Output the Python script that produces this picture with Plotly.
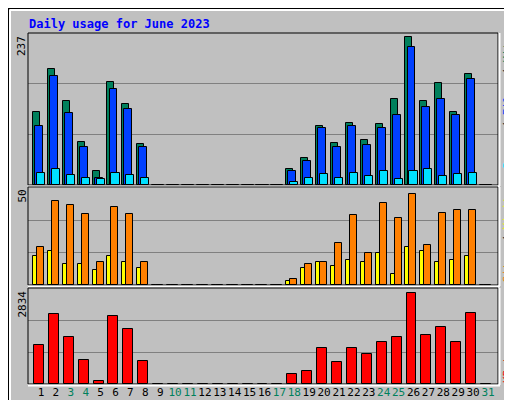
import plotly.graph_objects as go

days = list(range(1, 32))
hits  = [117,186,134,69,22,165,129,65] + [0]*9 + [25,44,95,67,100,72,98,137,237,134,164,117,178,0]
files = [95,175,115,61,12,154,121,61] + [0]*9 + [23,39,92,61,94,64,92,112,221,125,137,112,170,0]
pages = [20,25,16,12,9,19,16,11] + [0]*9 + [5,12,17,12,20,14,23,9,23,25,14,17,20,0]
visits = [20,44,42,37.5,12,41,37.5,12] + [0]*9 + [3,11,12,22,37,17,43,35,48,21,38,39.5,39.5,0]
sites  = [15,18,11,11,8,15,12,9] + [0]*9 + [2,9,12,10,13,12,17,6,20,18,12,13,15,0]
kbytes = [1200,2182,1469,755,103,2120,1717,724] + [0]*9 + [321,414,1127,693,1127,941,1313,1469,2834,1531,1779,1313,2213,0]
weekend = [3,4,10,11,17,18,24,25,31]

W, H = 512, 400
def py(p): return 1 - p / H
def px(p): return p / W

fig = go.Figure()
LINE = dict(color="black", width=1)
def bar(y, color, off, width, ax):
    fig.add_trace(go.Bar(x=days, y=y, offset=off, width=width, marker=dict(color=color, line=LINE),
                         xaxis="x" if ax == 1 else f"x{ax}", yaxis="y" if ax == 1 else f"y{ax}",
                         showlegend=False, hoverinfo="skip"))

bar(hits, "#00805C", -0.54, 0.47, 1)
bar(files, "#0040FF", -0.40, 0.53, 1)
bar(pages, "#00E0FF", -0.27, 0.54, 1)
bar(sites, "#FFFF00", -0.54, 0.29, 2)
bar(visits, "#FF8000", -0.27, 0.47, 2)
bar(kbytes, "#FF0000", -0.47, 0.67, 3)

xr = [0.128, 31.67]
xdom = [px(20), px(490)]
doms = [(py(177), py(25)), (py(277), py(180)), (py(376), py(281))]
R = [237 * 152 / 148, 50 * 99 / 97, 2834 * 95 / 91.3]
lay = {}
for i in range(3):
    sfx = "" if i == 0 else str(i + 1)
    lay["xaxis" + sfx] = dict(domain=xdom, range=xr, showgrid=False, zeroline=False, fixedrange=True,
                              anchor="y" + sfx, showticklabels=(i == 2), automargin=False, tickangle=0,
                              tickvals=days if i == 2 else None,
                              ticktext=[f'<span style="color:{"#00805C" if d in weekend else "black"}">{d}</span>' for d in days] if i == 2 else None,
                              ticks="", ticklen=0, tickfont=dict(family="DejaVu Sans Mono", size=11, color="black"))
    lay["yaxis" + sfx] = dict(domain=list(doms[i]), range=[0, R[i]], tickvals=[R[i] / 3, 2 * R[i] / 3],
                              showticklabels=False, gridcolor="#808080", gridwidth=1, zeroline=False,
                              anchor="x" + sfx, ticks="", automargin=False)
fig.update_layout(**lay)

shapes = []
shapes.append(dict(type="rect", xref="paper", yref="paper", x0=0, y0=0, x1=1, y1=1, line=dict(color="black", width=2)))
shapes.append(dict(type="line", xref="paper", yref="paper", x0=px(507), y0=py(2), x1=px(507), y1=py(396), line=dict(color="#808080", width=5)))
shapes.append(dict(type="line", xref="paper", yref="paper", x0=px(2), y0=py(396), x1=px(509), y1=py(396), line=dict(color="#808080", width=5)))
shapes.append(dict(type="line", xref="paper", yref="paper", x0=px(2), y0=py(2), x1=px(505), y1=py(2), line=dict(color="white", width=2)))
shapes.append(dict(type="line", xref="paper", yref="paper", x0=px(2), y0=py(2), x1=px(2), y1=py(394), line=dict(color="white", width=2)))
for (b, t) in [(177, 25), (277, 179), (376, 280)]:
    shapes.append(dict(type="rect", xref="paper", yref="paper", x0=xdom[0], x1=xdom[1], y0=py(b), y1=py(t), line=dict(color="black", width=1)))
    shapes.append(dict(type="line", xref="paper", yref="paper", x0=xdom[0], x1=px(492), y0=py(b + 1.5), y1=py(b + 1.5), line=dict(color="white", width=2)))
    shapes.append(dict(type="line", xref="paper", yref="paper", x0=px(491.5), x1=px(491.5), y0=py(b + 1), y1=py(t), line=dict(color="white", width=2)))
fig.update_layout(shapes=shapes)

F = "DejaVu Sans Mono"
ann = [
    dict(text="<b>Daily usage for June 2023</b>", x=px(19), y=py(16), xanchor="left", yanchor="middle",
         font=dict(family=F, size=12, color="#0000FF")),
    dict(text="237", x=px(14), y=py(26), xanchor="center", yanchor="top", textangle=-90, font=dict(family=F, size=11, color="black")),
    dict(text="50", x=px(14), y=py(180), xanchor="center", yanchor="top", textangle=-90, font=dict(family=F, size=11, color="black")),
    dict(text="2834", x=px(14), y=py(281), xanchor="center", yanchor="top", textangle=-90, font=dict(family=F, size=11, color="black")),
    dict(text='<span style="color:#00E0FF">Pages</span> / <span style="color:#0040FF">Files</span> / <span style="color:#00805C">Hits</span>',
         x=px(499), y=py(26), xanchor="center", yanchor="top", textangle=-90, font=dict(family=F, size=11, color="black")),
    dict(text='<span style="color:#FF8000">Sites</span> / <span style="color:#FFFF00">Visits</span>',
         x=px(499), y=py(180), xanchor="center", yanchor="top", textangle=-90, font=dict(family=F, size=11, color="black")),
    dict(text="KBytes", x=px(499), y=py(377), xanchor="center", yanchor="bottom", textangle=-90, font=dict(family=F, size=11, color="#FF0000")),
]
for a in ann:
    a.update(xref="paper", yref="paper", showarrow=False)
fig.update_layout(annotations=ann, width=W, height=H, margin=dict(l=0, r=0, t=0, b=0, autoexpand=False),
                  paper_bgcolor="#C0C0C0", plot_bgcolor="#C0C0C0", barmode="overlay", bargap=0)
fig.write_html("out.html", config={"displayModeBar": False})
